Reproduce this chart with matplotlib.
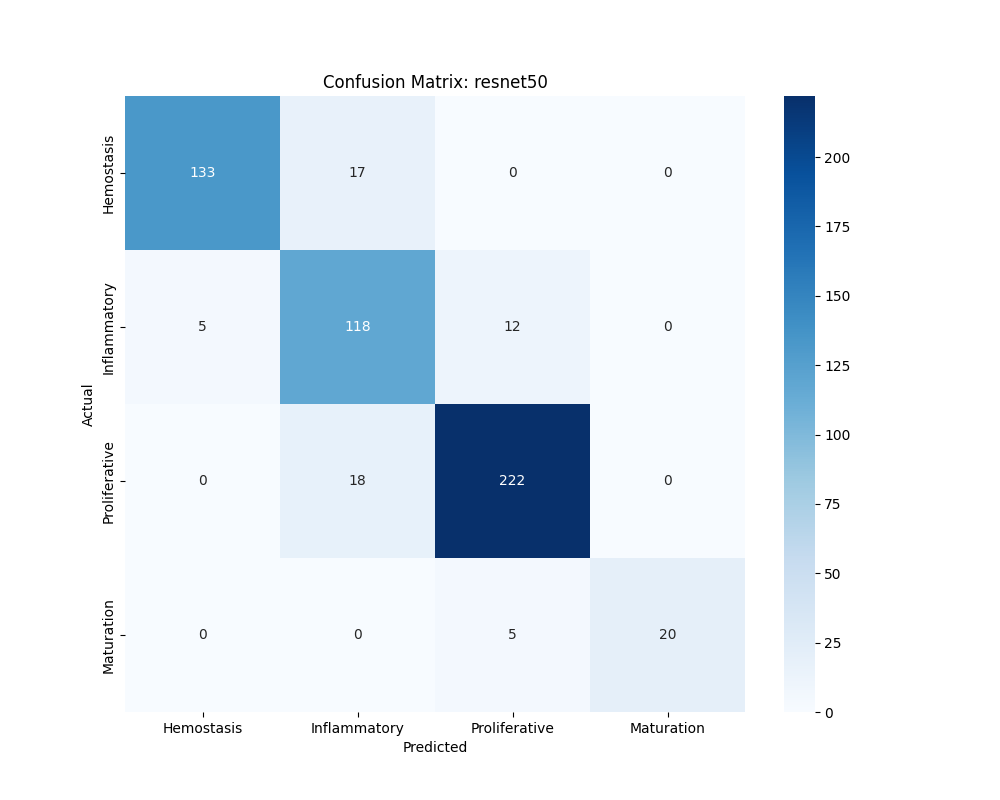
import numpy as np
import matplotlib
matplotlib.use("Agg")
import matplotlib.pyplot as plt
import seaborn as sns

# Etiquetas de clases y matriz de confusión
classes = ['Hemostasis', 'Inflammatory', 'Proliferative', 'Maturation']
row_hemostasis = [133, 17, 0, 0]
row_inflammatory = [5, 118, 12, 0]
row_proliferative = [0, 18, 222, 0]
row_maturation = [0, 0, 5, 20]

cm = np.array([row_hemostasis, row_inflammatory, row_proliferative, row_maturation])

plt.figure(figsize=(10, 8))
sns.heatmap(cm, annot=True, fmt='d', cmap='Blues',
            xticklabels=classes, yticklabels=classes)
plt.title('Confusion Matrix: resnet50')
plt.xlabel('Predicted')
plt.ylabel('Actual')
plt.savefig('out.png', dpi=100)
